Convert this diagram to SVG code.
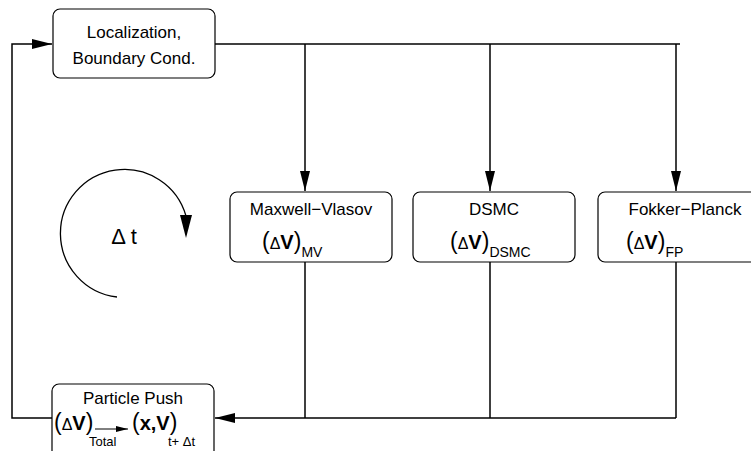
<svg xmlns="http://www.w3.org/2000/svg" width="751" height="451" viewBox="0 0 751 451">
<defs>
<marker id="ahL" viewBox="0 0 20 10" refX="20" refY="5" markerWidth="20" markerHeight="10" markerUnits="userSpaceOnUse" orient="auto"><path d="M0,0 L20,5 L0,10 Z" fill="#000"/></marker>
<marker id="ahS" viewBox="0 0 12 8" refX="12" refY="4" markerWidth="12" markerHeight="8" markerUnits="userSpaceOnUse" orient="auto"><path d="M0,1 L12,4 L0,7 Z" fill="#000"/></marker>
</defs>
<style>
.box{fill:#fff;stroke:#000;stroke-width:1.2}
.ln{fill:none;stroke:#000;stroke-width:1.5}
text{font-family:"Liberation Sans",Arial,sans-serif;fill:#000}
.t{font-size:17px;text-anchor:middle}
.p{font-size:23px}
.d{font-size:16px}
.v{font-size:20px;font-weight:bold}
.s{font-size:14px}
.sb{font-size:13px}
</style>
<rect width="751" height="451" fill="#fff"/>
<g id="connectors">
<path class="ln" d="M215,44 H680"/>
<path class="ln" d="M305,44 V191" marker-end="url(#ahL)"/>
<path class="ln" d="M490,44 V191" marker-end="url(#ahL)"/>
<path class="ln" d="M676,44 V191" marker-end="url(#ahL)"/>
<path class="ln" d="M305,262 V418"/>
<path class="ln" d="M490,262 V418"/>
<path class="ln" d="M676,262 V418"/>
<path class="ln" d="M676,418 H215" marker-end="url(#ahL)"/>
<path class="ln" d="M52,418 H12 V44 H52" marker-end="url(#ahL)"/>
</g>
<g id="localization">
<rect class="box" x="53" y="9" width="162" height="69" rx="7"/>
<text class="t" x="134" y="38">Localization,</text>
<text class="t" x="134" y="64">Boundary Cond.</text>
</g>
<g id="maxwell">
<rect class="box" x="230" y="192" width="162" height="70" rx="7"/>
<text class="t" x="311" y="215">Maxwell−Vlasov</text>
<text x="262" y="249"><tspan class="p">(</tspan><tspan class="d">Δ</tspan><tspan class="v">V</tspan><tspan class="p">)</tspan><tspan class="s" dy="8">MV</tspan></text>
</g>
<g id="dsmc">
<rect class="box" x="413" y="192" width="162" height="70" rx="7"/>
<text class="t" x="494" y="215">DSMC</text>
<text x="450" y="249"><tspan class="p">(</tspan><tspan class="d">Δ</tspan><tspan class="v">V</tspan><tspan class="p">)</tspan><tspan class="s" dy="8">DSMC</tspan></text>
</g>
<g id="fokker">
<rect class="box" x="598" y="192" width="170" height="70" rx="7"/>
<text class="t" x="685" y="215">Fokker−Planck</text>
<text x="626" y="249"><tspan class="p">(</tspan><tspan class="d">Δ</tspan><tspan class="v">V</tspan><tspan class="p">)</tspan><tspan class="s" dy="8">FP</tspan></text>
</g>
<g id="particle-push">
<rect class="box" x="52" y="384" width="162" height="80" rx="7"/>
<text class="t" x="133" y="404">Particle Push</text>
<text x="54" y="430"><tspan class="p">(</tspan><tspan class="d">Δ</tspan><tspan class="v">V</tspan><tspan class="p">)</tspan></text>
<text class="sb" x="89" y="446">Total</text>
<path d="M95,429 H128" fill="none" stroke="#000" stroke-width="1" marker-end="url(#ahS)"/>
<text x="132" y="430"><tspan class="p">(</tspan><tspan class="v">x,V</tspan><tspan class="p">)</tspan></text>
<text class="sb" x="168" y="446">t+ Δt</text>
</g>
<g id="timestep">
<path d="M117,297 A64,64 0 1 1 186,216" fill="none" stroke="#000" stroke-width="1.3"/>
<path d="M180,215 L192,215 L186,238 Z" fill="#000"/>
<text x="124" y="244" font-size="22" text-anchor="middle">Δ t</text>
</g>
</svg>
